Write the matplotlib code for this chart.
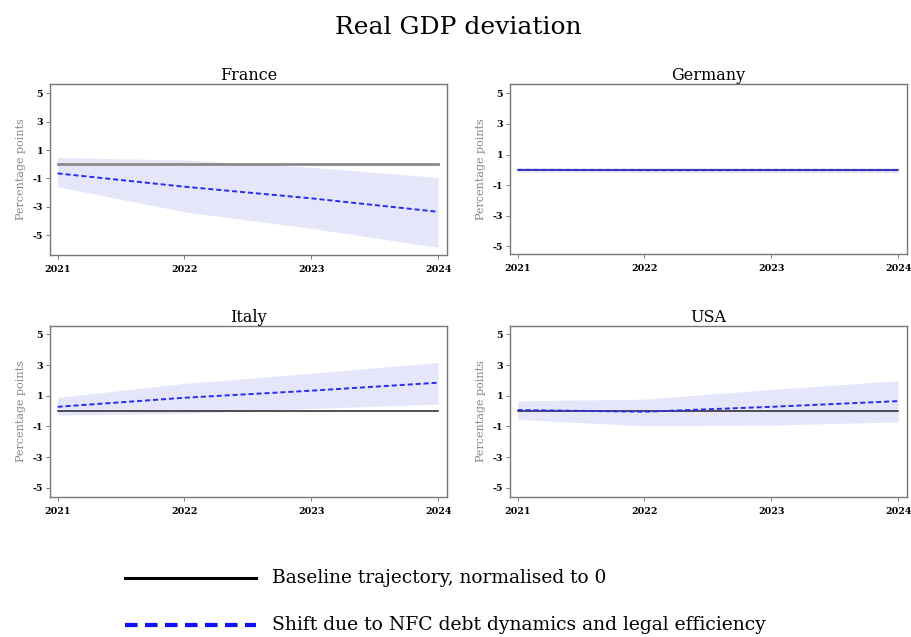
import matplotlib
matplotlib.use("Agg")
import matplotlib.pyplot as plt
from matplotlib.lines import Line2D

years = [2021, 2022, 2023, 2024]
countries = ["France", "Germany", "Italy", "USA"]

shift = {
    "France": [-0.65, -1.59, -2.41, -3.36],
    "Germany": [0.0, -0.02, -0.02, -0.02],
    "Italy": [0.28, 0.87, 1.33, 1.85],
    "USA": [0.07, -0.04, 0.28, 0.65],
}
upper = {
    "France": [0.46, 0.30, -0.22, -0.93],
    "Germany": [0.15, 0.15, 0.15, 0.15],
    "Italy": [0.89, 1.80, 2.46, 3.17],
    "USA": [0.67, 0.78, 1.41, 1.98],
}
lower = {
    "France": [-1.59, -3.36, -4.53, -5.87],
    "Germany": [-0.15, -0.18, -0.18, -0.18],
    "Italy": [-0.26, -0.15, 0.17, 0.46],
    "USA": [-0.54, -0.96, -0.91, -0.70],
}
baseline = [0, 0, 0, 0]
yticks = [5, 3, 1, -1, -3, -5]

W, H = 912, 637
# pixel boxes: left, right, top, bottom, y-limits
boxes = {
    "France": (50, 447, 84, 255, (-6.41, 5.66)),
    "Germany": (510, 907, 84, 254, (-5.5, 5.61)),
    "Italy": (50, 447, 326, 497, (-5.59, 5.54)),
    "USA": (510, 907, 326, 497, (-5.59, 5.54)),
}

plt.rcParams["font.family"] = ["DejaVu Serif"]

fig = plt.figure(figsize=(W / 100, H / 100), dpi=100)
fig.text(458 / W, 1 - 27 / H, "Real GDP deviation", ha="center", va="center", fontsize=18)

for c in countries:
    l, r, t, b, ylim = boxes[c]
    ax = fig.add_axes([l / W, 1 - b / H, (r - l) / W, (b - t) / H])
    ax.fill_between(years, lower[c], upper[c], color="#e6e6fb", linewidth=0)
    base_col = "#8a8a8a" if c == "France" else "#222222"
    base_lw = 2.0 if c == "France" else 1.1
    ax.plot(years, baseline, color=base_col, lw=base_lw)
    ax.plot(years, shift[c], color="#2a2aff", lw=1.4, ls=(0, (2.6, 1.5)))
    ax.set_xlim(2020.94, 2024.07)
    ax.set_ylim(*ylim)
    ax.set_xticks(years)
    ax.set_yticks(yticks)
    ax.set_yticklabels([str(v) for v in yticks])
    ax.tick_params(axis="both", labelsize=6.8, length=3, width=0.6, color="#666666", pad=2)
    for lab in ax.get_xticklabels() + ax.get_yticklabels():
        lab.set_fontweight("bold")
    ax.tick_params(axis="x", pad=4)
    for s in ax.spines.values():
        s.set_color("#777777")
        s.set_linewidth(1.0)
    ax.set_title(c, fontsize=11.5, pad=3)
    ax.set_ylabel("Percentage points", fontsize=8, color="#888888", labelpad=5)

leg_ax = fig.add_axes([0, 0, 1, 1])
leg_ax.set_axis_off()
leg_ax.set_xlim(0, W)
leg_ax.set_ylim(H, 0)
leg_ax.add_line(Line2D([125, 256], [578, 578], color="black", lw=2.2))
leg_ax.add_line(Line2D([125, 256], [625, 625], color="#1010ff", lw=3, ls=(0, (3.0, 1.8))))
leg_ax.text(272, 578, "Baseline trajectory, normalised to 0", va="center", ha="left", fontsize=13.4)
leg_ax.text(272, 625, "Shift due to NFC debt dynamics and legal efficiency", va="center", ha="left", fontsize=13.5)

fig.savefig("out.png", dpi=100, facecolor="white")
